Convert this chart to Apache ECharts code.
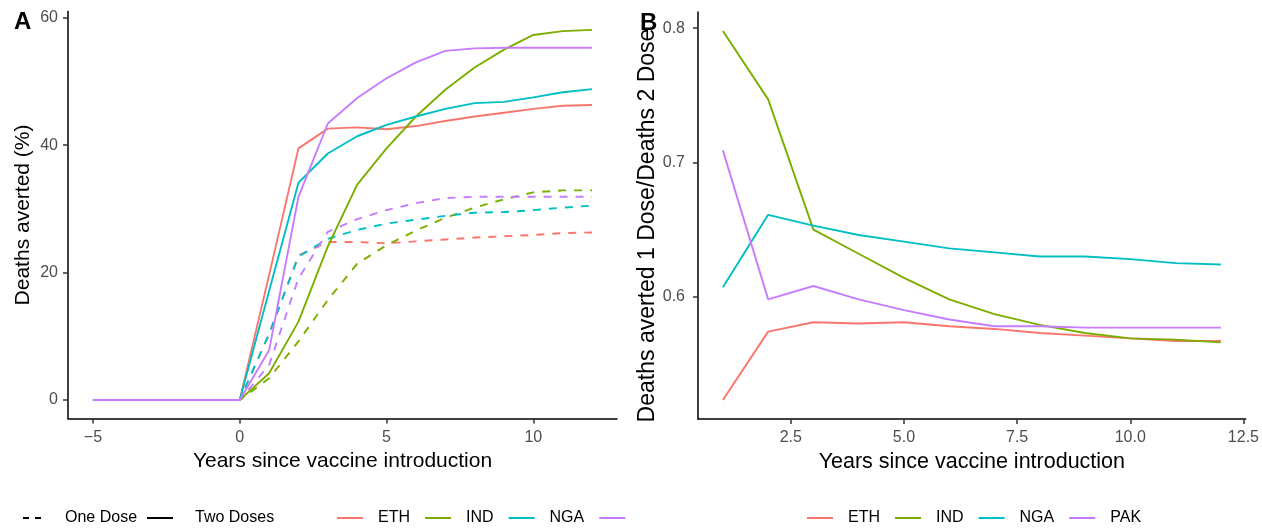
<!DOCTYPE html>
<html><head><meta charset="utf-8">
<script src="https://cdn.jsdelivr.net/npm/echarts@6/dist/echarts.min.js"></script>
<style>html,body{margin:0;padding:0;background:#fff}#c{width:1262px;height:529px}</style>
</head><body><div id="c"></div>
<script>
// ---------- data ----------
const countries = ['ETH', 'IND', 'NGA', 'PAK'];
const colors = ['#F8766D', '#7CAE00', '#00BFC4', '#C77CFF'];

// Panel A: deaths averted (%) by years since vaccine introduction
const yearsA = [-5, -4, -3, -2, -1, 0, 1, 2, 3, 4, 5, 6, 7, 8, 9, 10, 11, 12];
const twoDoseETH = [0, 0, 0, 0, 0, 0, 19.6, 39.5, 42.6, 42.8, 42.5, 43.0, 43.8, 44.5, 45.1, 45.7, 46.2, 46.3];
const twoDoseIND = [0, 0, 0, 0, 0, 0, 4.2, 12.3, 24.1, 33.8, 39.5, 44.5, 48.7, 52.2, 55.0, 57.3, 57.9, 58.1];
const twoDoseNGA = [0, 0, 0, 0, 0, 0, 17.1, 34.1, 38.7, 41.4, 43.2, 44.5, 45.7, 46.6, 46.8, 47.5, 48.3, 48.8];
const twoDosePAK = [0, 0, 0, 0, 0, 0, 7.8, 31.9, 43.4, 47.4, 50.5, 53.0, 54.8, 55.2, 55.3, 55.3, 55.3, 55.3];
const oneDoseETH = [0, 0, 0, 0, 0, 0, 10.3, 22.7, 24.8, 24.8, 24.6, 24.9, 25.2, 25.5, 25.7, 25.9, 26.2, 26.3];
const oneDoseIND = [0, 0, 0, 0, 0, 0, 3.4, 9.2, 15.7, 21.4, 24.3, 26.6, 28.6, 30.2, 31.5, 32.6, 32.9, 32.9];
const oneDoseNGA = [0, 0, 0, 0, 0, 0, 10.4, 22.5, 25.3, 26.7, 27.7, 28.3, 28.9, 29.4, 29.5, 29.8, 30.2, 30.5];
const oneDosePAK = [0, 0, 0, 0, 0, 0, 5.5, 19.1, 26.4, 28.4, 29.8, 30.9, 31.7, 31.9, 31.9, 31.9, 31.9, 31.9];

// Panel B: ratio deaths averted 1 dose / 2 doses
const yearsB = [1, 2, 3, 4, 5, 6, 7, 8, 9, 10, 11, 12];
const ratioETH = [0.523, 0.574, 0.581, 0.580, 0.581, 0.578, 0.576, 0.573, 0.571, 0.569, 0.567, 0.567];
const ratioIND = [0.798, 0.747, 0.650, 0.632, 0.614, 0.598, 0.587, 0.579, 0.573, 0.569, 0.568, 0.566];
const ratioNGA = [0.607, 0.661, 0.653, 0.646, 0.641, 0.636, 0.633, 0.630, 0.630, 0.628, 0.625, 0.624];
const ratioPAK = [0.709, 0.598, 0.608, 0.598, 0.590, 0.583, 0.578, 0.578, 0.577, 0.577, 0.577, 0.577];

// tick labels
const ticksAX = [-5, 0, 5, 10];
const ticksAY = [0, 20, 40, 60];
const ticksBX = [2.5, 5, 7.5, 10, 12.5];
const ticksBY = [0.6, 0.7, 0.8];

// ---------- chart ----------
const FONT = "'Liberation Sans', Arial, Helvetica, sans-serif";
const twoDose = [twoDoseETH, twoDoseIND, twoDoseNGA, twoDosePAK];
const oneDose = [oneDoseETH, oneDoseIND, oneDoseNGA, oneDosePAK];
const ratios = [ratioETH, ratioIND, ratioNGA, ratioPAK];
const pairs = (xs, ys) => xs.map((x, i) => [x, ys[i]]);
const LW = 1.9;

function axisBase(ticks, fmt, margin) {
  return {
    axisLine: { show: true, onZero: false, lineStyle: { color: '#000', width: 1.5 } },
    axisTick: { show: true, length: 5, customValues: ticks, lineStyle: { color: '#333', width: 1.5 } },
    axisLabel: { show: true, customValues: ticks, color: '#4D4D4D', fontSize: 16, fontFamily: FONT, margin: margin, formatter: fmt },
    splitLine: { show: false },
    nameTextStyle: { color: '#000', fontSize: 21, fontFamily: FONT },
    nameLocation: 'middle'
  };
}
const minusFmt = v => (v < 0 ? '\u2212' + Math.abs(v) : String(v));
const oneFmt = v => Number(v).toFixed(1);

const series = [];
countries.forEach((c, i) => {
  series.push({ name: c, type: 'line', xAxisIndex: 0, yAxisIndex: 0, data: pairs(yearsA, twoDose[i]),
    symbol: 'none', color: colors[i], lineStyle: { width: LW, type: 'solid' }, z: 3 });
});
countries.forEach((c, i) => {
  series.push({ name: c + ' one', type: 'line', xAxisIndex: 0, yAxisIndex: 0, data: pairs(yearsA, oneDose[i]),
    symbol: 'none', color: colors[i], lineStyle: { width: LW, type: [8, 8] }, z: 2 });
});
countries.forEach((c, i) => {
  series.push({ name: c, type: 'line', xAxisIndex: 1, yAxisIndex: 1, data: pairs(yearsB, ratios[i]),
    symbol: 'none', color: colors[i], lineStyle: { width: LW, type: 'solid' } });
});
// legend-only entries for the dose line types
series.push({ name: 'One Dose', type: 'line', xAxisIndex: 0, yAxisIndex: 0, data: [], symbol: 'none', color: '#000', lineStyle: { width: 2, type: [6, 6] } });
series.push({ name: 'Two Doses', type: 'line', xAxisIndex: 0, yAxisIndex: 0, data: [], symbol: 'none', color: '#000', lineStyle: { width: 2, type: 'solid' } });

const legendText = { color: '#000', fontSize: 16, fontFamily: FONT };
const solidIcon = 'path://M0,0H26V2H0Z';
const dashIcon = 'path://M0,0H6V2H0Z M12,0H18V2H12Z';
function legendBase(names, left, w, icon, pad, gap) {
  return { data: names, left: left, top: 510, padding: 0, itemWidth: w, itemHeight: 2, itemGap: gap,
    icon: icon, selectedMode: false, textStyle: Object.assign({ padding: [0, 0, 0, pad] }, legendText) };
}
const option = {
  animation: false,
  backgroundColor: '#fff',
  grid: [
    { left: 68, right: 645, top: 11.4, bottom: 110.5, containLabel: false },
    { left: 698, right: 10, top: 12, bottom: 110, containLabel: false }
  ],
  xAxis: [
    Object.assign(axisBase(ticksAX, minusFmt, 11), { type: 'value', gridIndex: 0, min: -5.85, max: 12.85,
      name: 'Years since vaccine introduction', nameGap: 27 }),
    Object.assign(axisBase(ticksBX, oneFmt, 11), { type: 'value', gridIndex: 1, min: 0.45, max: 12.55,
      name: 'Years since vaccine introduction', nameGap: 26,
      nameTextStyle: { color: '#000', fontSize: 21.5, fontFamily: FONT } })
  ],
  yAxis: [
    Object.assign(axisBase(ticksAY, minusFmt, 10), { type: 'value', gridIndex: 0, min: -2.905, max: 61.0,
      name: 'Deaths averted (%)', nameGap: 34 }),
    Object.assign(axisBase(ticksBY, oneFmt, 13), { type: 'value', gridIndex: 1, min: 0.5089, max: 0.8121,
      name: 'Deaths averted 1 Dose/Deaths 2 Dose', nameGap: 39,
      nameTextStyle: { color: '#000', fontSize: 23, fontFamily: FONT, padding: [0, 20, 0, 0] } })
  ],
  legend: [
    legendBase(['One Dose'], 23, 18, dashIcon, 19, 0),
    legendBase(['Two Doses'], 147, 26, solidIcon, 17, 0),
    Object.assign(legendBase(countries, 337, 26, solidIcon, 10, 15), { formatter: n => (n === 'PAK' ? '' : n) }),
    legendBase(countries, 807, 26, solidIcon, 10, 15)
  ],
  graphic: [
    { type: 'text', left: 14, top: 10, style: { text: 'A', font: "bold 24px 'Liberation Sans', Arial, sans-serif", fill: '#000' } },
    { type: 'text', left: 640, top: 11, style: { text: 'B', font: "bold 24px 'Liberation Sans', Arial, sans-serif", fill: '#000' } }
  ],
  series: series
};
const chart = echarts.init(document.getElementById('c'), null, { renderer: 'canvas' });
chart.setOption(option);
</script>
</body></html>
